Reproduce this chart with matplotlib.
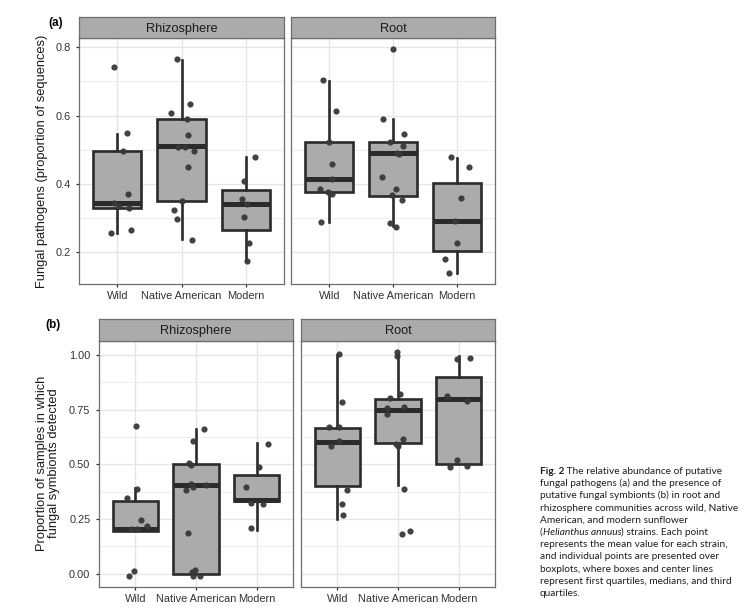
import matplotlib
matplotlib.use("Agg")
import matplotlib.pyplot as plt

# ---------------- data ----------------
groups = ["Wild", "Native American", "Modern"]
facets = ["Rhizosphere", "Root"]

# (a) fungal pathogens, proportion of sequences (points: per-strain means)
a_rhizo_wild = [0.741, 0.548, 0.495, 0.370, 0.343, 0.336, 0.330, 0.256, 0.265]
a_rhizo_native = [0.765, 0.633, 0.607, 0.589, 0.543, 0.509, 0.509, 0.495, 0.450, 0.349, 0.323, 0.298, 0.237]
a_rhizo_modern = [0.480, 0.408, 0.356, 0.340, 0.303, 0.227, 0.174]
a_root_wild = [0.703, 0.613, 0.524, 0.459, 0.415, 0.385, 0.377, 0.369, 0.288]
a_root_native = [0.795, 0.589, 0.546, 0.523, 0.510, 0.491, 0.488, 0.421, 0.386, 0.367, 0.353, 0.285, 0.275]
a_root_modern = [0.479, 0.448, 0.360, 0.290, 0.226, 0.181, 0.139]

# horizontal jitter of each point (category units)
a_rhizo_wild_jit = [-0.06, 0.15, 0.08, 0.16, -0.05, 0.02, 0.18, -0.10, 0.21]
a_rhizo_native_jit = [-0.07, 0.13, -0.16, 0.08, 0.10, -0.05, 0.05, 0.20, 0.10, 0.01, -0.12, -0.07, 0.17]
a_rhizo_modern_jit = [0.15, -0.02, -0.05, 0.03, -0.03, 0.06, 0.03]
a_root_wild_jit = [-0.10, 0.10, 0.00, 0.04, 0.05, -0.15, -0.02, 0.04, -0.13]
a_root_native_jit = [0.00, -0.16, 0.17, -0.04, 0.15, 0.06, 0.10, -0.18, 0.05, -0.02, 0.14, -0.05, 0.05]
a_root_modern_jit = [-0.09, 0.19, 0.07, -0.03, 0.00, -0.19, -0.125]

# box statistics: (whisker low, Q1, median, Q3, whisker high)
a_rhizo_box = [(0.257, 0.328, 0.343, 0.495, 0.546),
               (0.238, 0.349, 0.511, 0.589, 0.763),
               (0.176, 0.266, 0.340, 0.381, 0.480)]
a_root_box = [(0.289, 0.377, 0.415, 0.523, 0.701),
              (0.277, 0.366, 0.489, 0.522, 0.589),
              (0.139, 0.204, 0.290, 0.404, 0.477)]

# (b) proportion of samples in which fungal symbionts detected
b_rhizo_wild = [0.674, 0.386, 0.346, 0.247, 0.218, 0.203, 0.203, 0.012, -0.011]
b_rhizo_native = [0.660, 0.604, 0.506, 0.498, 0.409, 0.405, 0.396, 0.381, 0.186, 0.015, 0.006, -0.011, -0.011]
b_rhizo_modern = [0.593, 0.486, 0.396, 0.323, 0.320, 0.207]
b_root_wild = [1.003, 0.784, 0.672, 0.668, 0.608, 0.584, 0.383, 0.320, 0.267]
b_root_native = [1.015, 0.994, 0.819, 0.802, 0.759, 0.762, 0.730, 0.613, 0.591, 0.581, 0.389, 0.194, 0.181]
b_root_modern = [0.983, 0.986, 0.811, 0.788, 0.518, 0.486, 0.494]

b_rhizo_wild_jit = [0.01, 0.02, -0.14, 0.10, 0.19, -0.08, 0.03, -0.02, -0.10]
b_rhizo_native_jit = [0.14, -0.05, -0.12, -0.09, -0.09, 0.16, -0.05, -0.17, -0.13, -0.02, -0.06, 0.07, -0.05]
b_rhizo_modern_jit = [0.18, 0.04, -0.175, -0.10, 0.10, -0.09]
b_root_wild_jit = [0.02, 0.08, -0.13, 0.02, 0.02, -0.10, 0.16, 0.07, 0.10]
b_root_native_jit = [-0.01, -0.02, 0.04, -0.14, -0.18, 0.10, -0.18, 0.08, -0.04, 0.00, 0.10, 0.19, 0.07]
b_root_modern_jit = [-0.03, 0.18, -0.19, 0.13, -0.02, -0.14, 0.14]

b_rhizo_box = [(0.197, 0.197, 0.203, 0.333, 0.392),
               (0.000, 0.000, 0.404, 0.500, 0.663),
               (0.198, 0.332, 0.338, 0.453, 0.597)]
b_root_box = [(0.250, 0.401, 0.602, 0.666, 1.000),
              (0.404, 0.599, 0.750, 0.800, 1.000),
              (0.500, 0.500, 0.800, 0.899, 0.994)]

a_yticks = [0.2, 0.4, 0.6, 0.8]
a_ytick_labels = ["0.2", "0.4", "0.6", "0.8"]
a_yminor = [0.3, 0.5, 0.7]
b_yticks = [0.0, 0.25, 0.5, 0.75, 1.0]
b_ytick_labels = ["0.00", "0.25", "0.50", "0.75", "1.00"]
b_yminor = [0.125, 0.375, 0.625, 0.875]

a_ylabel = "Fungal pathogens (proportion of sequences)"
b_ylabel = "Proportion of samples in which\nfungal symbionts detected"

caption_lines = [
    [("Fig. 2", "bold"), (" The relative abundance of putative", "normal")],
    [("fungal pathogens (a) and the presence of", "normal")],
    [("putative fungal symbionts (b) in root and", "normal")],
    [("rhizosphere communities across wild, Native", "normal")],
    [("American, and modern sunflower", "normal")],
    [("(", "normal"), ("Helianthus annuus", "italic"), (") strains. Each point", "normal")],
    [("represents the mean value for each strain,", "normal")],
    [("and individual points are presented over", "normal")],
    [("boxplots, where boxes and center lines", "normal")],
    [("represent first quartiles, medians, and third", "normal")],
    [("quartiles.", "normal")],
]

# ---------------- style ----------------
plt.rcParams["font.family"] = ["Liberation Sans", "DejaVu Sans"]
W, H = 750, 614
fig = plt.figure(figsize=(W / 100, H / 100), dpi=100)

BORDER = "#6e6e6e"
STRIP = "#ababab"
BOXFILL = "#ababab"
LINE = "#2b2b2b"
POINT = "#383838"
GRID = "#e6e6e6"
TXT = "#1a1a1a"
TICKTXT = "#333333"


def px_axes(l, t, r, b):
    return fig.add_axes([l / W, 1 - b / H, (r - l) / W, (b - t) / H])


def panel(l, t, r, b, strip_top, title, series, jitters, boxes, ylim, yticks,
          yticklabels, yminor, show_y):
    ax = px_axes(l, t, r, b)
    ax.set_xlim(0.4, 3.6)
    ax.set_ylim(*ylim)
    for yv in yminor:
        ax.axhline(yv, color=GRID, lw=0.5, zorder=0)
    for yv in yticks:
        ax.axhline(yv, color=GRID, lw=1.0, zorder=0)
    for xv in (1, 2, 3):
        ax.axvline(xv, color=GRID, lw=1.0, zorder=0)
    stats = []
    for (wl, q1, med, q3, wh) in boxes:
        stats.append(dict(whislo=wl, q1=q1, med=med, q3=q3, whishi=wh, fliers=[]))
    ax.bxp(stats, positions=[1, 2, 3], widths=0.75, patch_artist=True,
           showcaps=False, showfliers=False,
           boxprops=dict(facecolor=BOXFILL, edgecolor=LINE, linewidth=1.9),
           whiskerprops=dict(color=LINE, linewidth=1.9),
           medianprops=dict(color=LINE, linewidth=3.6, solid_capstyle="butt"),
           zorder=2)
    for i, (vals, jit) in enumerate(zip(series, jitters)):
        xs = [i + 1 + j for j in jit]
        ax.scatter(xs, vals, s=20, color=POINT, linewidths=0, zorder=4, alpha=0.95)
    for sp in ax.spines.values():
        sp.set_color(BORDER)
        sp.set_linewidth(0.9)
    ax.set_xticks([1, 2, 3])
    ax.set_xticklabels(groups, fontsize=7.9, color=TICKTXT)
    ax.tick_params(axis="x", length=2.2, width=0.9, color=LINE, pad=3)
    ax.set_yticks(yticks)
    if show_y:
        ax.set_yticklabels(yticklabels, fontsize=7.9, color=TICKTXT)
        ax.tick_params(axis="y", length=2.2, width=0.9, color=LINE, pad=4)
    else:
        ax.tick_params(axis="y", length=0, labelleft=False)
    ax.set_facecolor("white")
    # strip
    sax = px_axes(l, strip_top, r, t)
    sax.set_facecolor(STRIP)
    sax.set_xticks([])
    sax.set_yticks([])
    for sp in sax.spines.values():
        sp.set_color(BORDER)
        sp.set_linewidth(0.9)
    sax.text(0.5, 0.45, title, ha="center", va="center", fontsize=9.2,
             color=TXT, transform=sax.transAxes)
    return ax


a_series_rhizo = [a_rhizo_wild, a_rhizo_native, a_rhizo_modern]
a_jit_rhizo = [a_rhizo_wild_jit, a_rhizo_native_jit, a_rhizo_modern_jit]
a_series_root = [a_root_wild, a_root_native, a_root_modern]
a_jit_root = [a_root_wild_jit, a_root_native_jit, a_root_modern_jit]
b_series_rhizo = [b_rhizo_wild, b_rhizo_native, b_rhizo_modern]
b_jit_rhizo = [b_rhizo_wild_jit, b_rhizo_native_jit, b_rhizo_modern_jit]
b_series_root = [b_root_wild, b_root_native, b_root_modern]
b_jit_root = [b_root_wild_jit, b_root_native_jit, b_root_modern_jit]

a_ylim = (0.107, 0.827)
b_ylim = (-0.061, 1.063)

panel(79, 38, 284, 284, 17, facets[0], a_series_rhizo, a_jit_rhizo, a_rhizo_box,
      a_ylim, a_yticks, a_ytick_labels, a_yminor, True)
panel(291, 38, 495, 284, 17, facets[1], a_series_root, a_jit_root, a_root_box,
      a_ylim, a_yticks, a_ytick_labels, a_yminor, False)
panel(99, 341, 293, 587, 319, facets[0], b_series_rhizo, b_jit_rhizo, b_rhizo_box,
      b_ylim, b_yticks, b_ytick_labels, b_yminor, True)
panel(301, 341, 495, 587, 319, facets[1], b_series_root, b_jit_root, b_root_box,
      b_ylim, b_yticks, b_ytick_labels, b_yminor, False)

# panel labels and axis titles
fig.text(56 / W, 1 - 23 / H, "(a)", fontsize=8.5, fontweight="bold", ha="center", va="center", color="black")
fig.text(53 / W, 1 - 325 / H, "(b)", fontsize=8.5, fontweight="bold", ha="center", va="center", color="black")
fig.text(42 / W, 1 - 161 / H, a_ylabel, rotation=90, fontsize=9.3, ha="center", va="center", color=TXT)
fig.text(48 / W, 1 - 463 / H, b_ylabel, rotation=90, fontsize=9.3, ha="center", va="center",
         color=TXT, linespacing=1.05)

# caption (mixed bold / italic pieces chained left to right)
cax = fig.add_axes([0, 0, 1, 1], facecolor="none")
cax.set_xlim(0, W)
cax.set_ylim(H, 0)
cax.axis("off")
cap_x = 540
cap_y0 = 476
cap_dy = 12.2
for li, pieces in enumerate(caption_lines):
    y = cap_y0 + li * cap_dy
    prev = None
    for txt, style in pieces:
        kw = dict(fontsize=7.3, color="#1e1e1e", family=["Lato", "DejaVu Sans"],
                  ha="left", va="bottom")
        if style == "bold":
            kw["fontweight"] = "bold"
        if style == "italic":
            kw["fontstyle"] = "italic"
        if prev is None:
            prev = cax.text(cap_x, y, txt, **kw)
        else:
            prev = cax.annotate(txt, xy=(1, 0), xycoords=prev, **kw)

fig.savefig("out.png", dpi=100)
